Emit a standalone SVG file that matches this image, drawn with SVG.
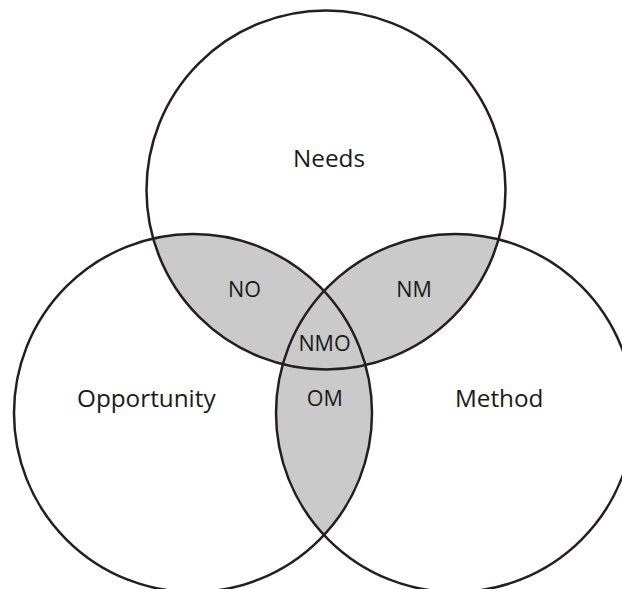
<svg xmlns="http://www.w3.org/2000/svg" width="622" height="589" viewBox="0 0 622 589">
  <style>
    .ring { fill: none; stroke: #231f20; stroke-width: 2.5; }
    .overlap { fill: #cacaca; stroke: none; }
    .label { font-family: "Open Sans", "Noto Sans", sans-serif; fill: #1a1a1a; text-anchor: middle; }
    .big { font-size: 24.3px; }
    .small { font-size: 21.5px; }
  </style>
  <defs>
    <clipPath id="clipN"><circle cx="326" cy="190" r="179.5"/></clipPath>
    <clipPath id="clipO"><circle cx="193" cy="413" r="179"/></clipPath>
  </defs>
  <rect x="0" y="0" width="622" height="589" fill="#ffffff"/>
  <g id="overlaps">
    <circle class="overlap" cx="193" cy="413" r="179" clip-path="url(#clipN)"/>
    <circle class="overlap" cx="455" cy="413" r="179" clip-path="url(#clipN)"/>
    <circle class="overlap" cx="455" cy="413" r="179" clip-path="url(#clipO)"/>
  </g>
  <g id="needs">
    <circle class="ring" cx="326" cy="190" r="179.5"/>
    <text class="label big" x="329" y="166.7">Needs</text>
  </g>
  <g id="opportunity">
    <circle class="ring" cx="193" cy="413" r="179"/>
    <text class="label big" x="146.3" y="407.3">Opportunity</text>
  </g>
  <g id="method">
    <circle class="ring" cx="455" cy="413" r="179"/>
    <text class="label big" x="499.2" y="407.3">Method</text>
  </g>
  <g id="region-NO"><text class="label small" x="244.5" y="297.3">NO</text></g>
  <g id="region-NM"><text class="label small" x="414" y="297.3">NM</text></g>
  <g id="region-NMO"><text class="label small" x="324.5" y="350.7">NMO</text></g>
  <g id="region-OM"><text class="label small" x="324.7" y="405.7">OM</text></g>
</svg>
